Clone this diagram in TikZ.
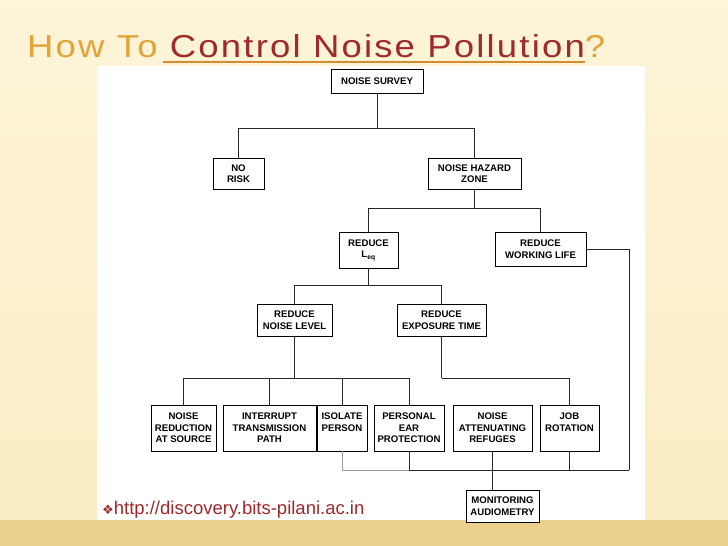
\documentclass[tikz,border=0pt]{standalone}
\usepackage{fontspec}
\setmainfont{Liberation Sans}
\newfontfamily\djv{DejaVu Sans}
\newfontfamily\ttl[LetterSpace=6]{Liberation Sans}
\definecolor{bg}{HTML}{FBEDC4}
\definecolor{bgtop}{HTML}{FDF4D9}
\definecolor{band}{HTML}{EAD08C}
\definecolor{ora}{HTML}{E2A436}
\definecolor{dred}{HTML}{9E2A2B}
\begin{document}
\begin{tikzpicture}[x=1pt,y=-1pt,
  bx/.style={draw=black,line width=0.7pt,fill=white,align=center,font=\fontsize{9.6}{11.5}\selectfont\bfseries,inner sep=1pt},
  ln/.style={line width=0.8pt,draw=black!85}]
\useasboundingbox (0,0) rectangle (728,546);
\shade[top color=bgtop,bottom color=bg] (0,0) rectangle (728,520);
\fill[band] (0,520) rectangle (728,546);
\fill[white] (97,66) rectangle (645,520);
\node[anchor=base west,inner sep=0] (title) at (27,57)
 {\resizebox{578pt}{23pt}{\ttl\fontsize{30}{30}\selectfont\textcolor{ora}{How To }\textcolor{dred}{Control Noise Pollution}\textcolor{ora}{?}}};
\draw[ora!80!dred,line width=1.2pt] (163,62) coordinate (u1) -- (585,62) coordinate (u2);
% boxes
\def\B#1#2#3#4#5#6{\node[bx,minimum width=#4-#2,minimum height=#5-#3] (#1) at ({(#2+#4)/2},{(#3+#5)/2}) {#6};}
\B{ns}{331}{69}{423}{93}{NOISE SURVEY}
\B{nr}{213}{158}{264}{189}{NO\\RISK}
\B{hz}{428}{158}{521}{189}{NOISE HAZARD\\ZONE}
\B{leq}{339}{232}{398}{268}{REDUCE\\L\textsubscript{eq}}
\B{wl}{495}{232}{586}{266}{REDUCE\\WORKING LIFE}
\B{nl}{257}{304}{332}{336}{REDUCE\\NOISE LEVEL}
\B{et}{397}{304}{486}{336}{REDUCE\\EXPOSURE TIME}
\B{rs}{151}{405}{216}{451}{NOISE\\REDUCTION\\AT SOURCE}
\B{it}{223}{405}{316}{451}{INTERRUPT\\TRANSMISSION\\PATH}
\B{ip}{317}{405}{367}{451}{ISOLATE\\PERSON\\ }
\B{pe}{374}{405}{444}{451}{PERSONAL\\EAR\\PROTECTION}
\B{ar}{453}{405}{532}{451}{NOISE\\ATTENUATING\\REFUGES}
\B{jr}{540}{405}{599}{451}{JOB\\ROTATION\\ }
\B{ma}{466}{490}{539}{522}{MONITORING\\AUDIOMETRY}
% connectors
\draw[ln] (ns.south) -- ++(0,35) coordinate (c1);
\draw[ln] (nr.north) |- (c1) -| (hz.north);
\draw[ln] (hz.south) -- ++(0,19) coordinate (c2);
\draw[ln] (leq.north) |- (c2) -| (wl.north);
\draw[ln] (leq.south) -- ++(0,17) coordinate (c3);
\draw[ln] (nl.north) |- (c3) -| (et.north);
\draw[ln] (nl.south) -- ++(0,42) coordinate (c4);
\draw[ln] (rs.north) |- (c4);
\draw[ln] (it.north) |- (c4);
\draw[ln] (ip.north) |- (c4) -| (pe.north);
\draw[ln] (et.south) -- ++(0,42) coordinate (c5);
\draw[ln] (c5) -| (jr.north);
\draw[ln] (wl.east) -| (629,470) coordinate (c6);
\draw[ln,draw=black!40,line width=0.6pt] (ip.south) |- (pe.south |- c6) coordinate (c7);
\draw[ln] (c7) -- (c6);
\draw[ln] (pe.south) -- (c7);
\draw[ln] (jr.south) -- (jr.south |- c6);
\draw[ln] (ar.south) -- (ar.south |- ma.north);
\node[anchor=base west,inner sep=0,text=dred,font=\fontsize{18.5}{20}\selectfont] (url) at (102,514)
 {{\djv\fontsize{13}{14}\selectfont ❖}http://discovery.bits-pilani.ac.in};
\end{tikzpicture}
\end{document}
